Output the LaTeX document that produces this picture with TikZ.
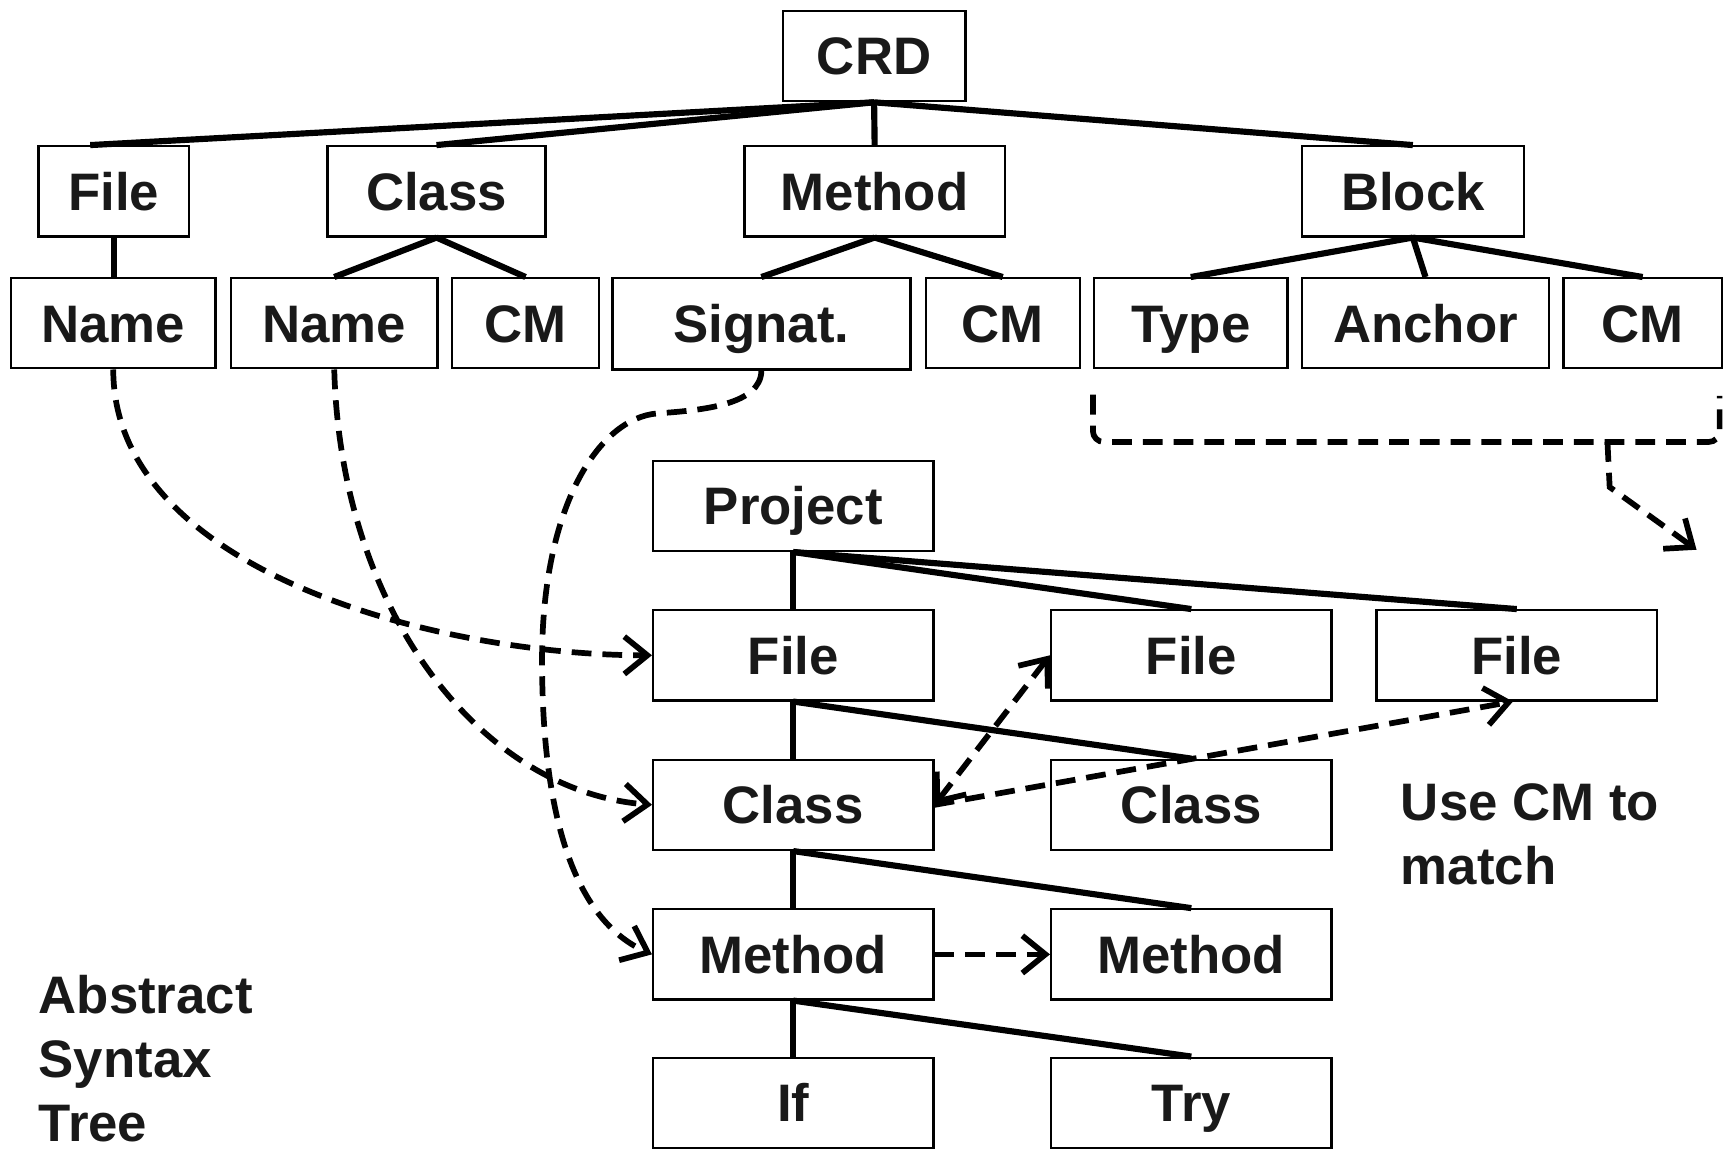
\documentclass[tikz,border=0pt]{standalone}
\usepackage{fontspec}
\setmainfont{Liberation Sans}
\usetikzlibrary{arrows.meta,calc}
\begin{document}
\begin{tikzpicture}[x=1pt,y=-1pt,
  box/.style={draw, line width=2.1pt, inner sep=0pt, minimum height=82pt,
    text height=34.4pt, text depth=0pt, text=black!90,
    font=\fontsize{48}{58}\selectfont\bfseries},
  treeedge/.style={line width=5.6pt},
  dashln/.style={line width=5.2pt, dash pattern=on 18pt off 10pt},
  tip/.style={-{Straight Barb[length=21pt,width=34pt]}},
  bothtips/.style={{Straight Barb[length=21pt,width=34pt]}-{Straight Barb[length=21pt,width=34pt]}},
  lbl/.style={anchor=base west, inner sep=0pt, text=black!90,
    font=\fontsize{48}{58}\selectfont\bfseries}]
\useasboundingbox (0,0) rectangle (1568,1045);

% ---- CRD tree ----
\node[box, minimum width=166pt] (crd) at (795,51) {CRD};
\node[box, minimum width=137pt] (file1) at (103.5,174) {File};
\node[box, minimum width=198pt] (class1) at (397,174) {Class};
\node[box, minimum width=237pt] (method1) at (795.5,174) {Method};
\node[box, minimum width=202pt] (block) at (1285,174) {Block};
\node[box, minimum width=186pt] (name1) at (103,294) {Name};
\node[box, minimum width=188pt] (name2) at (304,294) {Name};
\node[box, minimum width=134pt] (cm1) at (478,294) {CM};
\node[box, minimum width=271pt, minimum height=83pt] (signat) at (692.5,294.5) {Signat.};
\node[box, minimum width=140pt] (cm2) at (912,294) {CM};
\node[box, minimum width=176pt] (typ) at (1083,294) {Type};
\node[box, minimum width=225pt] (anch) at (1296.5,294) {Anchor};
\node[box, minimum width=144pt] (cm3) at (1494,294) {CM};

\draw[treeedge] (crd.south) -- ([xshift=-21.5pt]file1.north);
\draw[treeedge] (crd.south) -- (class1.north);
\draw[treeedge] (crd.south) -- (method1.north);
\draw[treeedge] (crd.south) -- (block.north);
\draw[treeedge] (file1.south) -- (file1.south |- name1.north);
\draw[treeedge] (class1.south) -- (name2.north);
\draw[treeedge] (class1.south) -- (cm1.north);
\draw[treeedge] (method1.south) -- (signat.north);
\draw[treeedge] (method1.south) -- (cm2.north);
\draw[treeedge] (block.south) -- (typ.north);
\draw[treeedge] (block.south) -- (anch.north);
\draw[treeedge] (block.south) -- (cm3.north);

% ---- project tree ----
\node[box, minimum width=255pt] (project) at (721.5,460) {Project};
\node[box, minimum width=255pt] (fileA) at (721.5,596) {File};
\node[box, minimum width=255pt] (classA) at (721.5,732) {Class};
\node[box, minimum width=255pt] (methodA) at (721.5,868) {Method};
\node[box, minimum width=255pt] (ifA) at (721.5,1003) {If};
\node[box, minimum width=255pt] (fileB) at (1083.5,596) {File};
\node[box, minimum width=255pt] (classB) at (1083.5,732) {Class};
\node[box, minimum width=255pt] (methodB) at (1083.5,868) {Method};
\node[box, minimum width=255pt] (tryB) at (1083.5,1003) {Try};
\node[box, minimum width=255pt] (fileC) at (1379.5,596) {File};

\draw[treeedge] (project.south) -- (fileA.north);
\draw[treeedge] (project.south) -- (fileB.north);
\draw[treeedge] (project.south) -- (fileC.north);
\draw[treeedge] (fileA.south) -- (classA.north);
\draw[treeedge] (fileA.south) -- (classB.north);
\draw[treeedge] (classA.south) -- (methodA.north);
\draw[treeedge] (classA.south) -- (methodB.north);
\draw[treeedge] (methodA.south) -- (ifA.north);
\draw[treeedge] (methodA.south) -- (tryB.north);

% ---- mappings ----
\draw[dashln, tip] (name1.south) .. controls (103,520) and (400,596) .. (fileA.west);
\draw[dashln, tip] (name2.south) .. controls (310,560) and (440,720) .. (classA.west);
\draw[dashln, tip] (signat.south) .. controls (692,368) and (640,373) .. (598,376)
  .. controls (545,380) and (493,460) .. (493,600)
  .. controls (493,760) and (530,840) .. (methodA.west);
\draw[dashln, bothtips] (classA.east) -- (fileB.west);
\draw[dashln, tip] (classA.east) -- ([xshift=-3.5pt]fileC.south);
\draw[dashln, tip] (methodA.east) -- (methodB.west);

% bracket under Type / Anchor / CM
\draw[dashln, rounded corners=10pt] (994,359) -- (994,402) -- (1564,402) -- (1564,360);
\coordinate (brTip) at (1462,402);
\coordinate (brKnee) at (1464,443);
\coordinate (brEnd) at (1543,500);
\draw[dashln, tip] (brTip) -- (brKnee) -- (brEnd);

% ---- notes ----
\node[lbl] (note1) at (1274,746) {Use CM to};
\node[lbl] (note2) at (1274,804) {match};
\node[lbl] (ast1) at (35,922) {Abstract};
\node[lbl] (ast2) at (35,980) {Syntax};
\node[lbl] (ast3) at (35,1038) {Tree};
\end{tikzpicture}
\end{document}
